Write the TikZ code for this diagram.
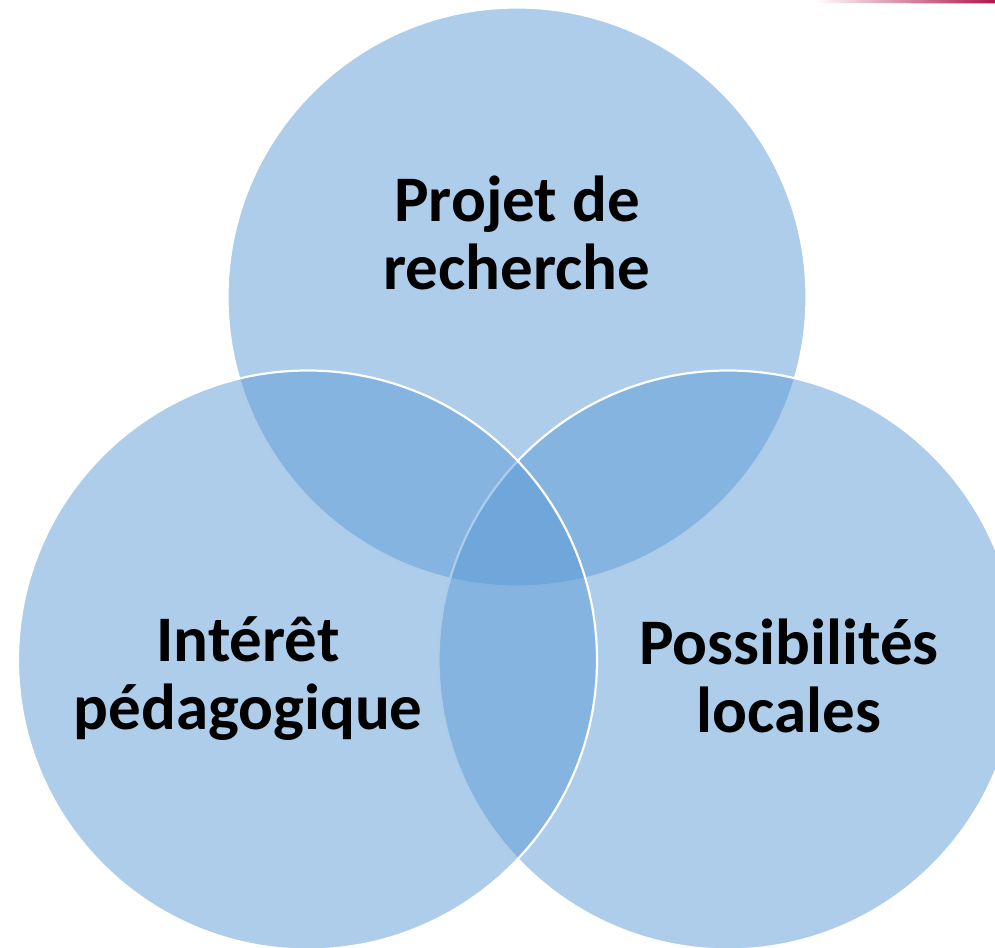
\documentclass[tikz,border=0pt]{standalone}
\usepackage{fontspec}
\setmainfont{Carlito}
\definecolor{vennblue}{RGB}{91,155,213}
\definecolor{edgered}{RGB}{176,22,72}

\begin{document}
\begin{tikzpicture}[x=1pt,y=1pt,
  venn/.style={circle, inner sep=0pt, minimum size=579pt, fill=vennblue, fill opacity=0.5, draw=white, line width=2.2pt},
  vlabel/.style={align=center, font=\fontsize{65}{68}\selectfont\bfseries, text=black}]
  \clip (0,0) rectangle (995,947);
  \shade[left color=white, right color=edgered] (815,944) -- (995,943.5) -- (995,947) -- (815,947) -- cycle;
   \foreach \n/\x/\y in {projet/517/650,possib/728/287,interet/307.5/287}
   {
    \node[venn] (\n) at (\x,\y) {};
   }
  \node[vlabel] (projetlbl) at (517,714) {Projet de\\recherche};
  \node[vlabel] (interetlbl) at (248,268) {Intérêt\\pédagogique};
  \node[vlabel] (possiblbl) at (789,271) {Possibilités\\locales};
\end{tikzpicture}
\end{document}
